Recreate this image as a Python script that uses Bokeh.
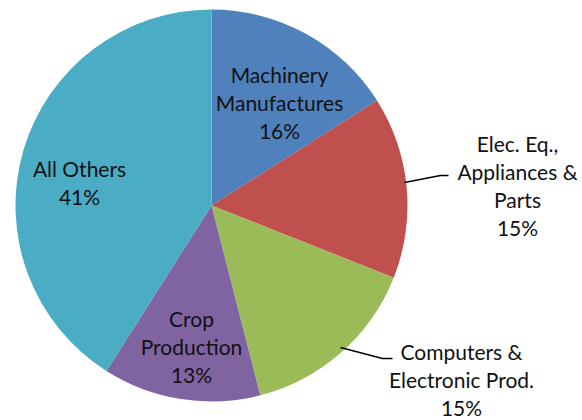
import numpy as np
from bokeh.plotting import figure
from bokeh.models import Range1d
from bokeh.core.properties import value
from bokeh.embed import file_html
from bokeh.resources import INLINE

# data
categories = ["Machinery\nManufactures", "Elec. Eq.,\nAppliances &\nParts",
              "Computers &\nElectronic Prod.", "Crop\nProduction", "All Others"]
shares = [16, 15, 15, 13, 41]
colors = ["#4F81BD", "#C0504D", "#9BBB59", "#8064A2", "#4BACC6"]

W, H = 582, 420
p = figure(width=W, height=H, output_backend="svg", toolbar_location=None,
           x_range=Range1d(0, W), y_range=Range1d(0, H), min_border=0)
p.axis.visible = False
p.grid.visible = False
p.outline_line_color = None
p.background_fill_color = "white"

cx, cy, r = 211, 420 - 205, 196
frac = np.array(shares) / sum(shares)
ends = np.cumsum(frac)
starts = ends - frac
start_ang = np.pi / 2 - starts * 2 * np.pi
end_ang = np.pi / 2 - ends * 2 * np.pi
p.wedge(x=cx, y=cy, radius=r, start_angle=start_ang, end_angle=end_ang,
        direction="clock", fill_color=colors, line_color=None)

# label layout (screen px, y down): block centre
label_pos = [(279, 102), (517, 185), (461, 379), (191, 346), (79, 182)]
labels = [f"{c}\n{s}%" for c, s in zip(categories, shares)]
p.text(x=[a for a, b in label_pos], y=[H - b for a, b in label_pos], text=labels,
       text_align="center", text_baseline="middle", text_font=value("Lato"),
       text_font_size="21px", text_line_height=1.11, text_color="#111111")

# leader lines
leaders = [[(404, 182), (440, 175), (448, 175)],
           [(340, 347), (382, 358), (392, 358)]]
p.multi_line(xs=[[pt[0] for pt in l] for l in leaders],
             ys=[[H - pt[1] for pt in l] for l in leaders],
             line_color="black", line_width=1.5)

open("out.html", "w").write(file_html(p, INLINE))
